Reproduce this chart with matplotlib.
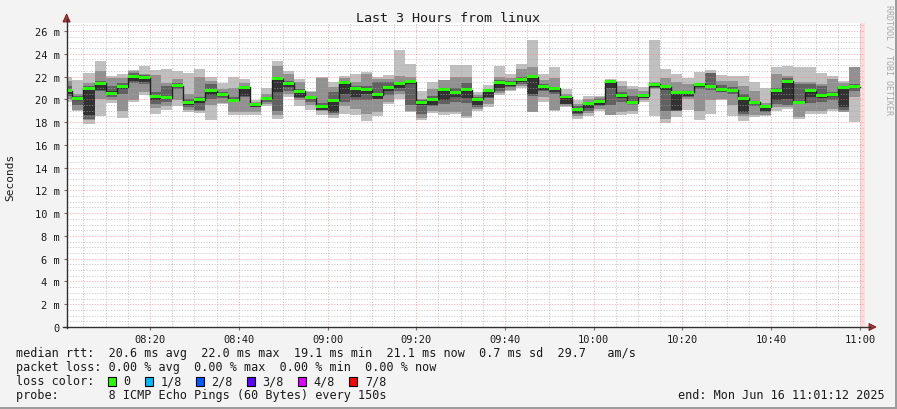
import numpy as np
import matplotlib
matplotlib.use("Agg")
import matplotlib.pyplot as plt
from matplotlib.patches import Rectangle, Polygon
from matplotlib.lines import Line2D

plt.rcParams["font.family"] = ["DejaVu Sans Mono"]

W, H = 897, 410

# time axis: minutes after 08:00, one sample every 150 s
t_start = 1.2      # 08:01:12
t_end = 181.2      # 11:01:12
t_last = 180.0     # last complete sample

tick_minutes = [20, 40, 60, 80, 100, 120, 140, 160, 180]
tick_labels = ["08:20", "08:40", "09:00", "09:20", "09:40", "10:00", "10:20", "10:40", "11:00"]

# smoke bands (ms): outer ping pair, 2nd pair, 3rd pair, inner pair, and median
p1 = [19.8, 19.0, 17.8, 18.5, 19.7, 18.4, 19.75, 20.4, 18.7, 19.1, 19.45, 18.9,
      18.8, 18.2, 19.6, 18.6, 18.65, 18.6, 19.45, 18.3, 20.2, 19.45, 19.1, 18.6,
      18.4, 18.7, 18.65, 18.1, 18.5, 19.6, 20.0, 18.9, 18.2, 18.8, 18.6, 18.7,
      18.35, 18.95, 19.35, 20.4, 20.75, 21.0, 18.85, 19.75, 19.0, 19.3, 18.3, 18.55,
      19.0, 18.6, 18.6, 18.7, 19.75, 18.5, 17.95, 18.45, 19.05, 18.2, 18.7, 19.95,
      18.55, 18.1, 18.45, 18.5, 19.0, 19.15, 18.3, 18.7, 18.7, 19.0, 18.85, 18.0]
p8 = [22.0, 21.7, 22.3, 23.35, 22.05, 22.2, 22.6, 22.9, 22.6, 22.7, 22.5, 22.3,
      22.7, 22.0, 21.4, 22.0, 21.75, 19.95, 21.0, 23.35, 22.45, 21.75, 20.75, 22.0,
      21.5, 22.05, 22.2, 22.4, 22.0, 22.15, 24.3, 23.1, 20.75, 21.5, 21.7, 23.0,
      23.0, 20.6, 21.25, 22.9, 22.2, 23.1, 25.25, 22.25, 22.8, 20.9, 19.9, 20.3,
      20.3, 21.8, 21.6, 21.2, 21.1, 25.25, 22.65, 22.2, 21.9, 22.4, 22.55, 22.1,
      22.05, 22.05, 21.5, 21.0, 22.85, 22.9, 22.8, 22.8, 22.35, 22.05, 21.6, 22.85]
p2 = [20.0, 19.05, 18.2, 20.0, 19.9, 19.0, 19.9, 20.6, 19.2, 19.4, 19.9, 19.1,
      19.0, 19.5, 19.7, 18.9, 18.9, 18.9, 19.6, 18.6, 20.5, 19.9, 19.5, 19.0,
      18.6, 19.45, 19.15, 18.75, 18.9, 19.8, 20.5, 19.0, 18.4, 19.0, 18.85, 18.9,
      18.5, 19.15, 19.6, 20.55, 20.8, 21.2, 18.9, 20.2, 19.1, 19.4, 18.55, 18.8,
      19.15, 18.6, 18.9, 19.0, 19.9, 20.9, 18.3, 19.0, 20.0, 19.0, 19.9, 20.0,
      19.5, 18.5, 18.6, 18.6, 19.3, 19.3, 18.45, 19.0, 19.0, 19.15, 18.85, 20.2]
p7 = [21.6, 20.5, 21.4, 22.5, 21.9, 21.9, 22.5, 22.2, 22.1, 21.4, 21.8, 20.5,
      22.0, 21.6, 20.9, 21.0, 21.4, 19.8, 20.5, 22.9, 22.2, 21.5, 20.6, 21.9,
      21.05, 21.9, 21.5, 22.2, 21.75, 21.8, 22.05, 22.0, 20.0, 20.9, 21.65, 22.0,
      22.0, 20.4, 20.9, 22.0, 21.9, 22.7, 22.85, 21.7, 21.9, 20.5, 19.6, 20.05,
      20.2, 21.65, 21.2, 20.9, 20.75, 21.5, 21.9, 21.5, 21.3, 21.3, 22.3, 21.6,
      21.6, 21.2, 20.75, 19.7, 22.2, 22.05, 21.5, 21.5, 21.3, 21.75, 21.45, 22.85]
p3 = [20.3, 19.5, 18.3, 20.7, 20.2, 20.5, 21.4, 21.3, 19.6, 19.8, 20.9, 19.3,
      19.1, 20.0, 20.1, 19.8, 20.2, 19.3, 19.8, 19.0, 20.7, 20.1, 19.8, 19.05,
      18.8, 19.8, 19.9, 19.9, 20.0, 20.4, 20.7, 19.5, 18.7, 19.4, 19.6, 19.8,
      19.7, 19.3, 20.1, 20.75, 21.1, 21.35, 20.3, 20.7, 20.5, 19.55, 18.7, 19.0,
      19.4, 19.5, 19.8, 19.6, 20.1, 21.0, 19.0, 19.0, 20.2, 20.9, 20.8, 20.6,
      20.5, 18.7, 19.4, 18.9, 19.6, 19.5, 19.6, 19.7, 19.8, 19.9, 19.1, 20.7]
p6 = [21.2, 20.3, 21.2, 21.6, 21.2, 21.4, 22.3, 22.1, 20.6, 21.2, 21.4, 20.0,
      20.2, 21.3, 20.6, 20.2, 21.2, 19.65, 20.2, 21.9, 21.6, 20.9, 20.3, 19.7,
      20.6, 21.6, 21.2, 21.2, 21.5, 21.5, 21.5, 21.5, 19.9, 20.3, 21.0, 21.0,
      21.45, 20.2, 20.8, 21.7, 21.6, 22.0, 22.05, 21.3, 21.1, 20.3, 19.4, 19.8,
      20.0, 21.5, 20.6, 20.3, 20.5, 21.4, 21.1, 20.6, 20.7, 21.3, 22.3, 21.25,
      21.1, 20.5, 19.75, 19.3, 21.0, 21.9, 21.3, 21.3, 21.2, 20.6, 21.0, 21.3]
p4 = [20.5, 19.9, 18.6, 20.8, 20.4, 20.9, 21.6, 21.5, 19.9, 20.0, 21.05, 19.5,
      19.7, 20.4, 20.25, 19.85, 20.3, 19.35, 19.9, 20.6, 21.1, 20.2, 20.0, 19.1,
      18.9, 20.5, 20.2, 20.5, 20.05, 20.7, 21.0, 21.3, 19.5, 19.5, 19.9, 20.2,
      20.1, 19.5, 20.2, 21.0, 21.2, 21.55, 20.5, 20.8, 20.6, 19.6, 18.8, 19.2,
      19.5, 21.0, 20.15, 19.65, 20.15, 21.1, 20.8, 19.1, 20.25, 21.1, 21.0, 20.7,
      20.65, 18.9, 19.55, 19.0, 19.9, 20.0, 19.65, 20.2, 20.1, 20.3, 19.3, 20.95]
p5 = [20.9, 20.15, 20.9, 21.3, 20.7, 21.2, 21.95, 21.85, 20.2, 20.15, 21.2, 19.75,
      19.95, 20.7, 20.4, 20.0, 21.0, 19.55, 20.05, 21.8, 21.35, 20.6, 20.15, 19.35,
      19.85, 21.4, 20.9, 20.8, 20.4, 21.0, 21.3, 21.5, 19.7, 19.95, 20.8, 20.55,
      20.8, 19.95, 20.7, 21.45, 21.35, 21.7, 21.9, 21.05, 20.9, 20.15, 19.1, 19.6,
      19.75, 21.5, 20.3, 19.75, 20.3, 21.3, 21.05, 20.5, 20.5, 21.25, 21.15, 20.8,
      20.8, 20.05, 19.7, 19.3, 20.75, 21.55, 19.75, 20.7, 20.25, 20.4, 21.0, 21.1]
median = [20.75, 20.05, 20.95, 21.4, 20.55, 21.1, 22.0, 21.9, 20.25, 20.15, 21.2, 19.75,
          19.95, 20.75, 20.4, 19.9, 21.05, 19.55, 20.1, 21.8, 21.4, 20.7, 20.15, 19.4,
          19.9, 21.45, 20.95, 20.85, 20.4, 21.05, 21.35, 21.55, 19.7, 20.0, 20.85, 20.6,
          20.85, 20.0, 20.75, 21.5, 21.4, 21.7, 22.0, 21.1, 20.95, 20.2, 19.1, 19.65,
          19.8, 21.55, 20.3, 19.7, 20.3, 21.3, 21.1, 20.6, 20.6, 21.3, 21.15, 20.85,
          20.8, 20.1, 19.75, 19.35, 20.8, 21.6, 19.75, 20.75, 20.3, 20.4, 21.05, 21.1]

legend_rtt = "median rtt:  20.6 ms avg  22.0 ms max  19.1 ms min  21.1 ms now  0.7 ms sd  29.7   am/s"
legend_loss = "packet loss: 0.00 % avg  0.00 % max  0.00 % min  0.00 % now"
loss_labels = ["0", "1/8", "2/8", "3/8", "4/8", "7/8"]
loss_colors = ["#26ff00", "#00b8ff", "#0059ff", "#5e00ff", "#dd00ff", "#ff0000"]
legend_probe = "probe:       8 ICMP Echo Pings (60 Bytes) every 150s"
end_text = "end: Mon Jun 16 11:01:12 2025"


def fx(px):
    return px / W


def fy(py):
    return 1 - py / H


n = len(median)
edges = np.arange(n + 1) * 2.5
edges[0] = t_start


def ext(v):
    return np.append(v, v[-1])


fig = plt.figure(figsize=(W / 100, H / 100), dpi=100, facecolor="#f3f3f3")
ax = fig.add_axes([fx(66.6), fy(328), fx(865.3) - fx(66.6), (328 - 24) / H])
ax.set_facecolor("white")

# smoke: outer pair first, darker inner pairs stacked on top
for lo, hi, c in [(p1, p8, "#c0c0c0"), (p2, p7, "#919191"),
                  (p3, p6, "#616161"), (p4, p5, "#323232")]:
    ax.fill_between(edges, ext(lo), ext(hi), step="post", color=c, lw=0, zorder=1)

ax.axvspan(t_last, t_end, color="#ffdcdc", lw=0, zorder=0.5)

ax.step(edges, ext(median), where="post", color="#202020", lw=1.0, zorder=3)
sw = 0.13
med = np.array(median)
ax.bar(edges[:-1], 2 * sw, bottom=med - sw, width=np.diff(edges), align="edge",
       color=loss_colors[0], lw=0, zorder=3.5)

ax.set_xlim(t_start, t_end)
ax.set_ylim(0, 26.7)
ax.set_xticks(tick_minutes)
ax.set_xticklabels(tick_labels)
ax.set_xticks(np.arange(5, 181, 5), minor=True)
ax.set_yticks(np.arange(0, 27, 2))
ax.set_yticklabels(["0"] + ["%d m" % v for v in range(2, 27, 2)])
ax.set_yticks(np.arange(0, 26.7, 0.5), minor=True)

ax.set_axisbelow(False)
ax.grid(which="minor", color="#a8a8a8", alpha=0.6, lw=0.7, linestyle=(0, (1.2, 1.6)))
ax.grid(which="major", color="#ff7070", alpha=0.55, lw=0.7, linestyle=(0, (1.2, 1.6)))
ax.tick_params(which="minor", length=0)
ax.tick_params(which="major", length=2, color="#707070", labelsize=7.5,
               labelcolor="#1a1a1a", pad=3)
for s in ax.spines.values():
    s.set_visible(False)

# axis lines with arrows
fig.add_artist(Line2D([fx(66.6), fx(66.6)], [fy(329), fy(20)], color="#303030", lw=1.0))
fig.add_artist(Line2D([fx(63), fx(870)], [fy(328), fy(328)], color="#303030", lw=1.0))
fig.add_artist(Polygon([(fx(63), fy(23)), (fx(70.2), fy(23)), (fx(66.6), fy(15))],
                       closed=True, facecolor="#a33a3a", edgecolor="#7f1010", lw=0.6))
fig.add_artist(Polygon([(fx(869), fy(324.5)), (fx(869), fy(331.5)), (fx(876), fy(328))],
                       closed=True, facecolor="#a33a3a", edgecolor="#7f1010", lw=0.6))

fig.text(fx(448), fy(19), "Last 3 Hours from linux", ha="center", va="center",
         fontsize=9.6, color="#1a1a1a")
fig.text(fx(10), fy(177), "Seconds", rotation=90, ha="center", va="center",
         fontsize=8, color="#1a1a1a")
fig.text(fx(889), fy(5), "RRDTOOL / TOBI OETIKER", rotation=270, ha="center", va="top",
         fontsize=6, color="#a8a8a8")

fs = 8.5
fig.text(fx(16), fy(354), legend_rtt, va="center", fontsize=fs, color="#1a1a1a")
fig.text(fx(16), fy(368), legend_loss, va="center", fontsize=fs, color="#1a1a1a")
fig.text(fx(16), fy(382), "loss color:", va="center", fontsize=fs, color="#1a1a1a")
x = 108.0
for lab, col in zip(loss_labels, loss_colors):
    fig.add_artist(Rectangle((fx(x), fy(386.5)), 8 / W, 8.5 / H, facecolor=col,
                             edgecolor="black", lw=0.8))
    fig.text(fx(x + 15.5), fy(382), lab, va="center", fontsize=fs, color="#1a1a1a")
    x += 15.5 + len(lab) * 7.1 + 14.3
fig.text(fx(16), fy(396), legend_probe, va="center", fontsize=fs, color="#1a1a1a")
fig.text(fx(678), fy(396), end_text, va="center", fontsize=fs, color="#1a1a1a")

# 3d frame
fig.add_artist(Rectangle((fx(895), 0), 2 / W, 1, facecolor="#9c9c9c", lw=0))
fig.add_artist(Rectangle((0, 0), 1, 2.5 / H, facecolor="#9c9c9c", lw=0))

fig.savefig("out.png", dpi=100, facecolor=fig.get_facecolor())
